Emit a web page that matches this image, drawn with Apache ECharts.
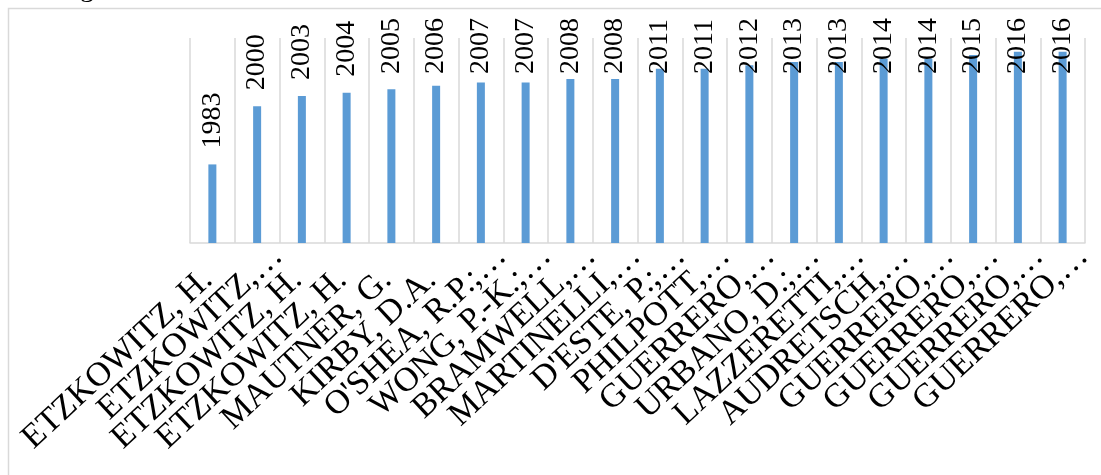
<!DOCTYPE html>
<html>
<head>
<meta charset="utf-8">
<script src="https://cdn.jsdelivr.net/npm/echarts@6/dist/echarts.min.js"></script>
<style>html,body{margin:0;padding:0;background:#fff;}#c{width:1101px;height:475px;}</style>
</head>
<body>
<div id="c"></div>
<script>
const categories = ["ETZKOWITZ, H.","ETZKOWITZ,…","ETZKOWITZ, H.","ETZKOWITZ, H.","MAUTNER, G.","KIRBY, D.A.","O'SHEA, R.P.;…","WONG, P.-K.;…","BRAMWELL,…","MARTINELLI,…","D'ESTE, P.;…","PHILPOTT,…","GUERRERO,…","URBANO, D.;…","LAZZERETTI,…","AUDRETSCH,…","GUERRERO,…","GUERRERO,…","GUERRERO,…","GUERRERO,…"];
const years = [1983,2000,2003,2004,2005,2006,2007,2007,2008,2008,2011,2011,2012,2013,2013,2014,2014,2015,2016,2016];
const yMin = 1960, yMax = 2020;

const chart = echarts.init(document.getElementById('c'), null, {renderer:'canvas'});
const labelDist = 16, labelLimit = 74;
chart.setOption({
  animation:false,
  textStyle:{fontFamily:'Liberation Serif'},
  graphic:[
    {type:'rect', shape:{x:8.5,y:8.5,width:1200,height:600}, style:{fill:'none',stroke:'#d9d9d9',lineWidth:1.5}, silent:true},
    {type:'text', x:80, y:-25, style:{text:'g', font:'28px "Liberation Serif"', fill:'#000'}}
  ],
  grid:{left:190, right:16, top:38, bottom:232, containLabel:false},
  xAxis:{
    type:'category', data:categories,
    axisLine:{show:true, lineStyle:{color:'#d9d9d9', width:1.5}},
    axisTick:{show:false},
    splitLine:{show:true, interval:0, lineStyle:{color:'#d9d9d9', width:1.5}},
    axisLabel:{interval:0, rotate:43, margin:-14, fontSize:34, color:'#000', fontFamily:'Liberation Serif',
      align:'right', verticalAlign:'top',
      formatter:function(v){ return v.endsWith('…') ? '{t|' + v + '}' : '{f|' + v + '}'; },
      rich:{
        t:{fontSize:34, fontFamily:'Liberation Serif', color:'#000', lineHeight:61},
        f:{fontSize:34, fontFamily:'Liberation Serif', color:'#000', lineHeight:61, padding:[0,35,0,0]}
      }
    }
  },
  yAxis:{type:'value', min:yMin, max:yMax, show:false, splitLine:{show:false}},
  series:[{
    type:'bar', data:years, barWidth:8,
    itemStyle:{color:'#5b9bd5'},
    label:{show:true, position:'top', rotate:90, align:'left', verticalAlign:'middle', distance:labelDist,
      fontSize:28, color:'#000', fontFamily:'Liberation Serif'},
    // keep value labels inside the chart area: push them down when they would leave the top
    labelLayout:function(p){
      const bottom = p.rect.y - labelDist;
      const shift = bottom < labelLimit ? labelLimit - bottom : 0;
      return shift ? {dx: -shift} : {};
    }
  }]
});
</script>
</body>
</html>
